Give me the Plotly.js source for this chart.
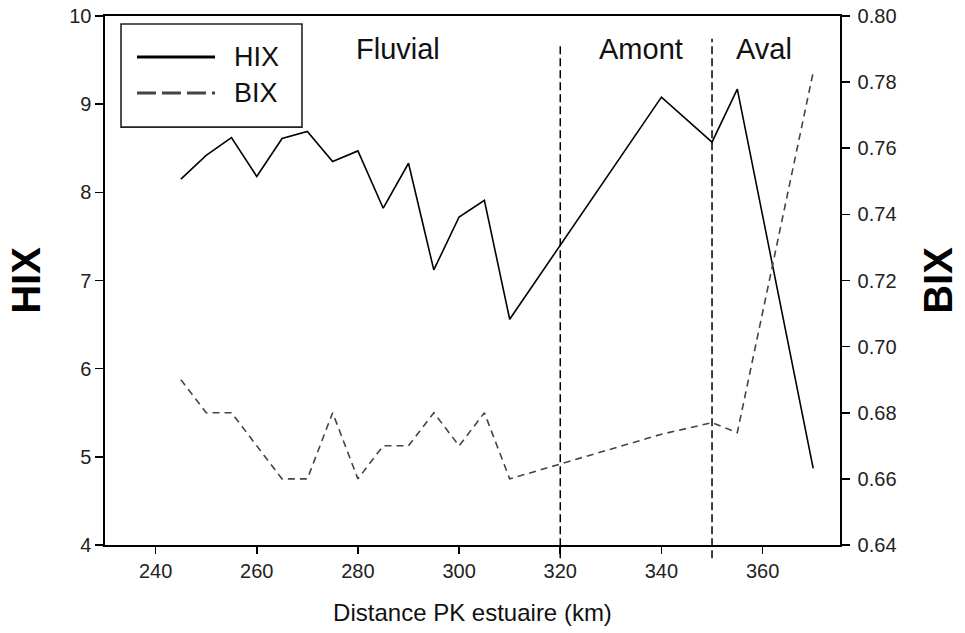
<!DOCTYPE html>
<html>
<head>
<meta charset="utf-8">
<script src="https://cdn.plot.ly/plotly-3.0.1.min.js"></script>
<style>html,body{margin:0;padding:0;background:#fff;}#chart{width:965px;height:633px;}</style>
</head>
<body>
<div id="chart"></div>
<script>
// Distance PK estuaire (km)
const distance = [245, 250, 255, 260, 265, 270, 275, 280, 285, 290, 295, 300, 305, 310, 340, 350, 355, 370];
// HIX (left axis)
const hix = [8.15, 8.42, 8.62, 8.18, 8.61, 8.69, 8.35, 8.47, 7.82, 8.33, 7.12, 7.72, 7.91, 6.56, 9.08, 8.57, 9.17, 4.87];
// BIX (right axis)
const bix = [0.690, 0.680, 0.680, 0.670, 0.660, 0.660, 0.680, 0.660, 0.670, 0.670, 0.680, 0.670, 0.680, 0.660, 0.6735, 0.677, 0.674, 0.783];
// zone boundaries and labels
const zoneBounds = [320, 350];
const zoneNames = ["Fluvial", "Amont", "Aval"];
const zoneLabelX = [288, 336, 360.2];
const seriesNames = ["HIX", "BIX"];

const FONT = "Arial, 'Liberation Sans', sans-serif";
const INK = "#111";

const traces = [
  {x: distance, y: hix, name: seriesNames[0], type: "scatter", mode: "lines",
   line: {color: "#000", width: 1.6}, yaxis: "y", showlegend: false},
  {x: distance, y: bix, name: seriesNames[1], type: "scatter", mode: "lines",
   line: {color: "#444", width: 1.6, dash: "7px,5px"}, yaxis: "y2", showlegend: false}
];

const shapes = [];
zoneBounds.forEach((b, i) => {
  shapes.push({type: "line", xref: "x", yref: "paper", x0: b, x1: b,
    y0: -0.025, y1: i === 0 ? 0.947 : 0.957,
    line: {color: "#000", width: 1.5, dash: "8px,4px"}});
});
// legend box (custom, drawn in paper space)
shapes.push({type: "rect", xref: "paper", yref: "paper", x0: 0.0218, x1: 0.268, y0: 0.790, y1: 0.985,
  line: {color: "#222", width: 1.6}, fillcolor: "rgba(255,255,255,0)"});
shapes.push({type: "line", xref: "paper", yref: "paper", x0: 0.0435, x1: 0.1497, y0: 0.9225, y1: 0.9225,
  line: {color: "#000", width: 3.2}});
shapes.push({type: "line", xref: "paper", yref: "paper", x0: 0.0435, x1: 0.1497, y0: 0.8544, y1: 0.8544,
  line: {color: "#444", width: 3.2, dash: "19px,6px"}});

const annotations = [];
zoneNames.forEach((n, i) => {
  annotations.push({text: n, x: zoneLabelX[i], y: 0.938, xref: "x", yref: "paper",
    showarrow: false, xanchor: "center", yanchor: "middle",
    font: {family: FONT, size: 29, color: INK}});
});
annotations.push({text: seriesNames[0], x: 0.1728, y: 0.9225, xref: "paper", yref: "paper",
  showarrow: false, xanchor: "left", yanchor: "middle", font: {family: FONT, size: 27, color: INK}});
annotations.push({text: seriesNames[1], x: 0.1728, y: 0.8544, xref: "paper", yref: "paper",
  showarrow: false, xanchor: "left", yanchor: "middle", font: {family: FONT, size: 27, color: INK}});

const layout = {
  width: 965, height: 633,
  margin: {l: 105, r: 125, t: 16, b: 88},
  paper_bgcolor: "#fff", plot_bgcolor: "#fff",
  showlegend: false,
  font: {family: FONT, color: INK},
  xaxis: {
    range: [230, 375.3], tickvals: [240, 260, 280, 300, 320, 340, 360],
    showgrid: false, zeroline: false,
    showline: true, linecolor: "#000", linewidth: 1.6, mirror: true,
    ticks: "outside", ticklen: 7, tickwidth: 1.6, tickcolor: "#000",
    tickfont: {family: FONT, size: 20, color: "#222"},
    title: {text: "Distance PK estuaire (km)", font: {family: FONT, size: 24, color: INK}, standoff: 23}
  },
  yaxis: {
    range: [4, 10], dtick: 1,
    showgrid: false, zeroline: false,
    showline: true, linecolor: "#000", linewidth: 1.6,
    ticks: "outside", ticklen: 8, tickwidth: 1.6, tickcolor: "#000",
    tickfont: {family: FONT, size: 20, color: "#222"},
    title: {text: "<b>HIX</b>", font: {family: FONT, size: 40, color: "#000"}, standoff: 16}
  },
  yaxis2: {
    range: [0.64, 0.80], dtick: 0.02, tickformat: ".2f",
    overlaying: "y", side: "right",
    showgrid: false, zeroline: false,
    showline: true, linecolor: "#000", linewidth: 1.6,
    ticks: "outside", ticklen: 8, tickwidth: 1.6, tickcolor: "#000",
    ticklabelstandoff: 4,
    tickfont: {family: FONT, size: 20, color: "#222"},
    title: {text: "<b>BIX</b>", font: {family: FONT, size: 40, color: "#000"}, standoff: 28}
  },
  shapes: shapes,
  annotations: annotations
};

Plotly.newPlot("chart", traces, layout, {staticPlot: true, displayModeBar: false});
</script>
</body>
</html>
